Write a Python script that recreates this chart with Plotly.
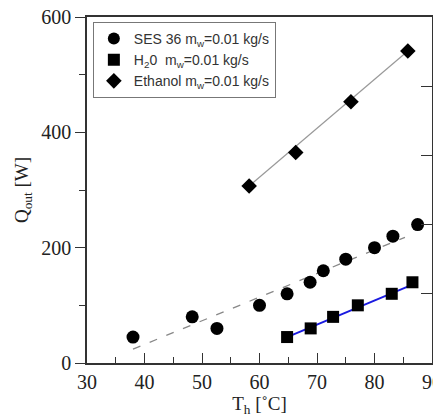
import plotly.graph_objects as go

# Data
ses_T = [38, 48.3, 52.6, 60, 64.8, 68.8, 71.1, 75, 80, 83.2, 87.5]
ses_Q = [45, 80, 60, 100, 120, 140, 160, 180, 200, 220, 240]
ses_fit_T = [38, 85.3]
ses_fit_Q = [24, 218]

h2o_T = [64.8, 68.9, 72.8, 77.1, 83, 86.6]
h2o_Q = [45, 60, 80, 100, 120, 140]
h2o_fit_T = [64.8, 86.6]
h2o_fit_Q = [45, 136]

eth_T = [58.2, 66.3, 75.9, 85.8]
eth_Q = [307, 365, 453, 541]
eth_fit_T = [58.2, 85.8]
eth_fit_Q = [307, 541]

right_ticks = [120, 240, 360, 480]

fig = go.Figure()

fig.add_trace(go.Scatter(x=ses_fit_T, y=ses_fit_Q, mode="lines",
                         line=dict(color="#888888", width=1.3, dash="8px,10px"),
                         showlegend=False, hoverinfo="skip"))
fig.add_trace(go.Scatter(x=h2o_fit_T, y=h2o_fit_Q, mode="lines",
                         line=dict(color="#1a1ae0", width=2),
                         showlegend=False, hoverinfo="skip"))
fig.add_trace(go.Scatter(x=eth_fit_T, y=eth_fit_Q, mode="lines",
                         line=dict(color="#999999", width=1.2),
                         showlegend=False, hoverinfo="skip"))

fig.add_trace(go.Scatter(x=ses_T, y=ses_Q, mode="markers",
                         name="SES 36 m<sub>w</sub>=0.01 kg/s",
                         marker=dict(symbol="circle", size=13, color="black")))
fig.add_trace(go.Scatter(x=h2o_T, y=h2o_Q, mode="markers",
                         name="H<sub>2</sub>0  m<sub>w</sub>=0.01 kg/s",
                         marker=dict(symbol="square", size=12, color="black")))
fig.add_trace(go.Scatter(x=eth_T, y=eth_Q, mode="markers",
                         name="Ethanol m<sub>w</sub>=0.01 kg/s",
                         marker=dict(symbol="diamond", size=12, color="black")))

# invisible trace to activate the right axis
fig.add_trace(go.Scatter(x=[30], y=[0], yaxis="y2", mode="markers",
                         marker=dict(opacity=0), showlegend=False, hoverinfo="skip"))

axis_color = "#333333"
serif = "Liberation Serif, Times New Roman, serif"

fig.update_layout(
    width=441, height=419,
    margin=dict(l=79, r=17, t=9, b=64),
    paper_bgcolor="white", plot_bgcolor="white",
    font=dict(family=serif, size=20, color="#222222"),
    xaxis=dict(range=[30, 90], tickvals=[30, 40, 50, 60, 70, 80, 90],
               ticks="inside", ticklen=10, tickwidth=1.2, tickcolor=axis_color,
               minor=dict(tickvals=[35, 45, 55, 65, 75, 85], ticks="inside",
                          ticklen=6, tickcolor=axis_color, showgrid=False),
               showline=True, linecolor=axis_color, linewidth=1.5, mirror=True,
               showgrid=False, zeroline=False, automargin=False,
               ticklabeloverflow="allow",
               title=dict(text="T<sub>h</sub> [˚C]", font=dict(size=19), standoff=2)),
    yaxis=dict(range=[0, 600], tickvals=[0, 200, 400, 600],
               ticks="outside", ticklen=10, tickwidth=1.2, tickcolor=axis_color,
               minor=dict(tickvals=[100, 300, 500], ticks="outside",
                          ticklen=6, tickcolor=axis_color, showgrid=False),
               showline=True, linecolor=axis_color, linewidth=1.5,
               showgrid=False, zeroline=False, automargin=False,
               ticklabeloverflow="allow",
               title=dict(text="Q<sub>out</sub> [W]", font=dict(size=19), standoff=8)),
    yaxis2=dict(range=[0, 600], overlaying="y", side="right",
                tickvals=right_ticks, showticklabels=False,
                ticks="inside", ticklen=11, tickwidth=1.2, tickcolor=axis_color,
                showline=True, linecolor=axis_color, linewidth=1.5,
                showgrid=False, zeroline=False, automargin=False),
    legend=dict(x=0.017, y=0.986, xanchor="left", yanchor="top",
                bgcolor="white", bordercolor="#777777", borderwidth=1,
                font=dict(family="Liberation Sans, Arial, sans-serif", size=14, color="#333333"),
                itemsizing="constant", tracegroupgap=0),
    showlegend=True,
)

fig.write_html("out.html")
